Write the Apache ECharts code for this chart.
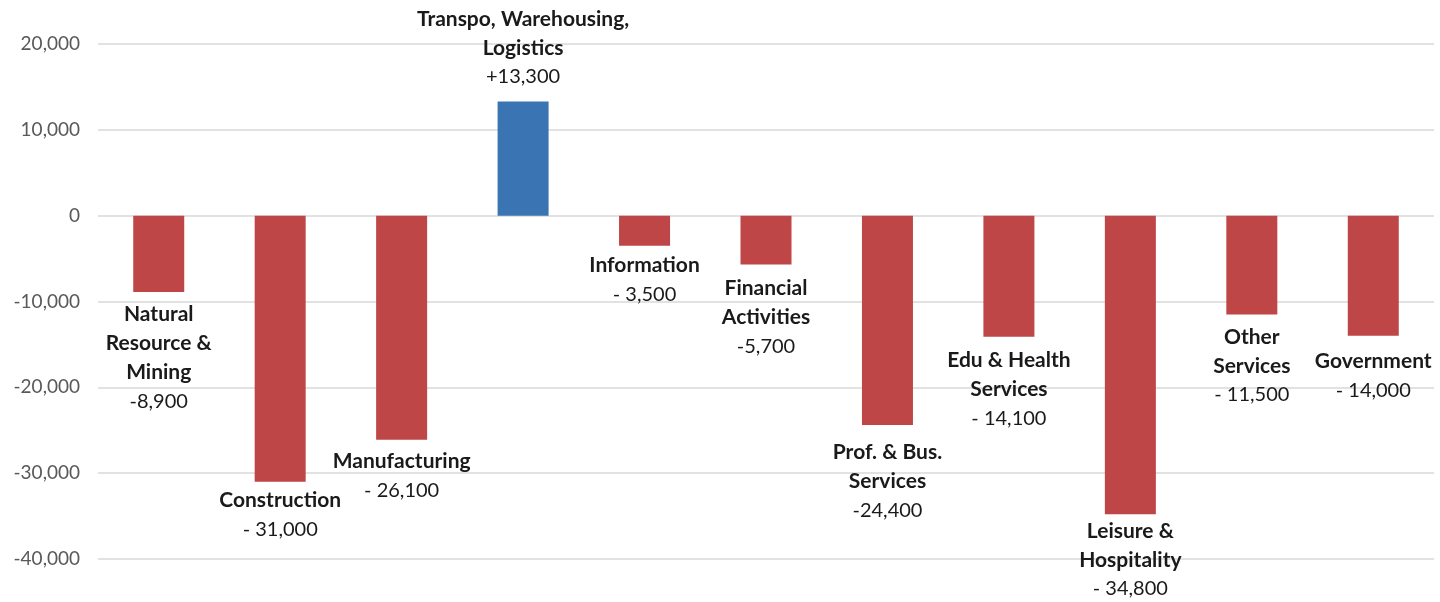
<!DOCTYPE html>
<html>
<head>
<meta charset="utf-8">
<script src="https://cdn.jsdelivr.net/npm/echarts@6/dist/echarts.min.js"></script>
<style>
  html, body { margin: 0; padding: 0; background: #fff; }
  #chart { width: 1440px; height: 602px; }
</style>
</head>
<body>
<div id="chart"></div>
<script>
// sectors, in chart order (line breaks as printed on the chart)
const sectors = [
    'Natural\nResource &\nMining',
    'Construction',
    'Manufacturing',
    'Transpo, Warehousing,\nLogistics',
    'Information',
    'Financial\nActivities',
    'Prof. & Bus.\nServices',
    'Edu & Health\nServices',
    'Leisure &\nHospitality',
    'Other\nServices',
    'Government'
];
// job change
const jobChange = [-8900, -31000, -26100, 13300, -3500, -5700, -24400, -14100, -34800, -11500, -14000];
// value text as printed
const valueText = ['-8,900', '- 31,000', '- 26,100', '+13,300', '- 3,500', '-5,700', '-24,400', '- 14,100', '- 34,800', '- 11,500', '- 14,000'];
// y axis
const yMin = -40000, yMax = 20000, yStep = 10000;

const RED = '#BE4646';
const BLUE = '#3A74B2';
// gap between bar end and its label (px)
const labelGap = [8, 4, 7, 10, 5, 9, 13, 9, 2, 8, 11];

const chart = echarts.init(document.getElementById('chart'));

const barData = jobChange.map((v, i) => {
    const nameLines = sectors[i].split('\n').map(s => '{n|' + s + '}').join('\n');
    return {
        value: v,
        itemStyle: { color: v >= 0 ? BLUE : RED },
        label: {
            show: true,
            position: v >= 0 ? 'top' : 'bottom',
            distance: labelGap[i],
            formatter: nameLines + '\n{v|' + valueText[i] + '}'
        }
    };
});

const option = {
    animation: false,
    grid: { left: 98, right: 6, top: 44, bottom: 43 },
    xAxis: {
        type: 'category',
        data: sectors,
        axisLine: { show: false },
        axisTick: { show: false },
        axisLabel: { show: false }
    },
    yAxis: {
        type: 'value',
        min: yMin,
        max: yMax,
        interval: yStep,
        axisLine: { show: false },
        axisTick: { show: false },
        splitLine: { lineStyle: { color: '#d9d9d9', width: 1.5 } },
        axisLabel: {
            margin: 18,
            color: '#595959',
            fontFamily: 'Lato',
            fontSize: 19,
            formatter: v => v.toLocaleString('en-US')
        }
    },
    series: [{
        type: 'bar',
        data: barData,
        barWidth: 51,
        label: {
            color: '#1a1a1a',
            align: 'center',
            rich: {
                n: { fontFamily: 'Lato', fontWeight: 'bold', fontSize: 21, lineHeight: 29, color: '#1a1a1a' },
                v: { fontFamily: 'Lato', fontSize: 20, lineHeight: 29, color: '#1a1a1a' }
            }
        }
    }]
};

chart.setOption(option);
window.addEventListener('resize', () => chart.resize());
</script>
</body>
</html>
